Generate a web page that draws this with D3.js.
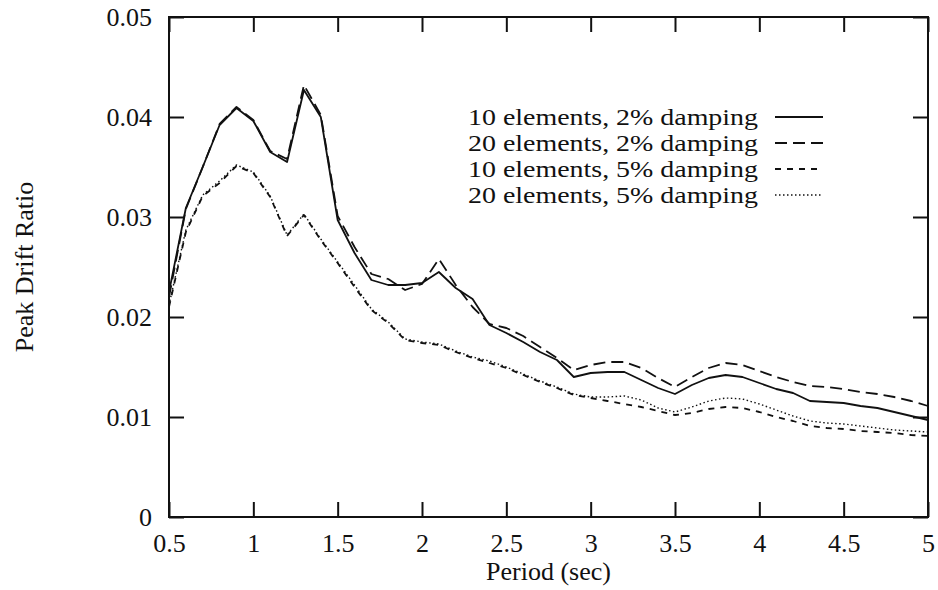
<!DOCTYPE html>
<html>
<head>
<meta charset="utf-8">
<script src="https://cdn.jsdelivr.net/npm/d3@7"></script>
<style>
  html, body { margin: 0; padding: 0; background: #fff; }
  svg text { font-family: "Liberation Serif", "DejaVu Serif", serif; fill: #111; }
</style>
</head>
<body>
<svg id="chart" width="938" height="590"></svg>
<script>
const periods = [0.5,0.6,0.7,0.8,0.9,1.0,1.1,1.2,1.3,1.4,1.5,1.6,1.7,1.8,1.9,2.0,2.1,2.2,2.3,2.4,2.5,2.6,2.7,2.8,2.9,3.0,3.1,3.2,3.3,3.4,3.5,3.6,3.7,3.8,3.9,4.0,4.1,4.2,4.3,4.4,4.5,4.6,4.7,4.8,4.9,5.0];

const el10_d2 = [0.0225,0.0309,0.0350,0.0392,0.0409,0.0396,0.0365,0.0355,0.0427,0.0400,0.0297,0.0264,0.0237,0.0232,0.0232,0.0234,0.0245,0.0229,0.0218,0.0192,0.0184,0.0175,0.0165,0.0157,0.0140,0.0144,0.0145,0.0145,0.0137,0.0129,0.0123,0.0132,0.0139,0.0142,0.0140,0.0134,0.0128,0.0124,0.0116,0.0115,0.0114,0.0111,0.0109,0.0105,0.0101,0.0097];
const el20_d2 = [0.0220,0.0308,0.0350,0.0393,0.0410,0.0397,0.0366,0.0358,0.0432,0.0402,0.0301,0.0270,0.0243,0.0238,0.0227,0.0233,0.0258,0.0232,0.0210,0.0193,0.0189,0.0181,0.0170,0.0159,0.0147,0.0152,0.0155,0.0155,0.0149,0.0139,0.0130,0.0140,0.0149,0.0154,0.0152,0.0146,0.0140,0.0135,0.0131,0.0130,0.0128,0.0125,0.0123,0.0120,0.0116,0.0111];
const el10_d5 = [0.0210,0.0285,0.0321,0.0334,0.0351,0.0344,0.0320,0.0281,0.0302,0.0277,0.0254,0.0230,0.0207,0.0194,0.0177,0.0174,0.0172,0.0165,0.0159,0.0154,0.0149,0.0142,0.0135,0.0129,0.0122,0.0119,0.0116,0.0113,0.0110,0.0106,0.0102,0.0104,0.0108,0.0110,0.0109,0.0105,0.0100,0.0096,0.0091,0.0089,0.0088,0.0086,0.0085,0.0084,0.0082,0.0081];
const el20_d5 = [0.0212,0.0287,0.0322,0.0336,0.0352,0.0345,0.0321,0.0282,0.0303,0.0278,0.0255,0.0232,0.0208,0.0195,0.0178,0.0175,0.0173,0.0166,0.0160,0.0156,0.0150,0.0143,0.0136,0.0130,0.0123,0.0120,0.0120,0.0121,0.0117,0.0109,0.0105,0.0110,0.0116,0.0119,0.0118,0.0113,0.0107,0.0101,0.0096,0.0094,0.0093,0.0091,0.0089,0.0087,0.0086,0.0085];

const seriesNames = ["10 elements, 2% damping","20 elements, 2% damping","10 elements, 5% damping","20 elements, 5% damping"];
const seriesValues = [el10_d2, el20_d2, el10_d5, el20_d5];
const seriesDash = [null, "12,6", "6,6", "1.5,2.5"];
const seriesWidth = [1.8, 1.8, 1.8, 1.4];

const xTicks = [0.5,1,1.5,2,2.5,3,3.5,4,4.5,5];
const xTickLabels = ["0.5","1","1.5","2","2.5","3","3.5","4","4.5","5"];
const yTicks = [0,0.01,0.02,0.03,0.04,0.05];
const yTickLabels = ["0","0.01","0.02","0.03","0.04","0.05"];
const xTitle = "Period (sec)";
const yTitle = "Peak Drift Ratio";

const svg = d3.select("#chart");
const L = 169, R = 928, T = 17, B = 517;
const x = d3.scaleLinear().domain([0.5, 5]).range([L, R]);
const y = d3.scaleLinear().domain([0, 0.05]).range([B, T]);
const FS = 26;
const LFS = 22.5;

// axes
const gx = svg.append("g").attr("transform", `translate(0,${B})`)
  .call(d3.axisBottom(x).tickValues(xTicks).tickFormat((d,i)=>xTickLabels[i]).tickSize(-15).tickPadding(17));
const gxt = svg.append("g").attr("transform", `translate(0,${T})`)
  .call(d3.axisTop(x).tickValues(xTicks).tickFormat("").tickSize(-15));
const gy = svg.append("g").attr("transform", `translate(${L},0)`)
  .call(d3.axisLeft(y).tickValues(yTicks).tickFormat((d,i)=>yTickLabels[i]).tickSize(-15).tickPadding(17));
const gyr = svg.append("g").attr("transform", `translate(${R},0)`)
  .call(d3.axisRight(y).tickValues(yTicks).tickFormat("").tickSize(-15));
[gx,gxt,gy,gyr].forEach(g => {
  g.select(".domain").remove();
  g.selectAll(".tick line").attr("stroke", "#111").attr("stroke-width", 2);
  g.selectAll(".tick text").attr("font-size", FS).attr("font-family", "Liberation Serif").attr("fill", "#111");
});

// frame
svg.append("rect").attr("x", L).attr("y", T).attr("width", R - L).attr("height", B - T)
  .attr("fill", "none").attr("stroke", "#111").attr("stroke-width", 2);

// lines
const line = d3.line().x((d,i)=>x(periods[i])).y(d=>y(d));
seriesValues.forEach((vals, k) => {
  svg.append("path").datum(vals).attr("d", line)
    .attr("fill", "none").attr("stroke", "#111")
    .attr("stroke-width", seriesWidth[k])
    .attr("stroke-dasharray", seriesDash[k])
    .attr("stroke-linejoin", "round");
});

// legend
const legY = [117, 143, 169, 195];
seriesNames.forEach((name, k) => {
  svg.append("text").attr("x", 758).attr("y", legY[k]).attr("dy", "0.35em")
    .attr("text-anchor", "end").attr("font-size", LFS)
    .attr("textLength", 290).attr("lengthAdjust", "spacingAndGlyphs").text(name);
  svg.append("line").attr("x1", 775).attr("x2", 823).attr("y1", legY[k]).attr("y2", legY[k])
    .attr("stroke", "#111").attr("stroke-width", seriesWidth[k]).attr("stroke-dasharray", seriesDash[k]);
});

// titles
svg.append("text").attr("x", (L + R) / 2).attr("y", 580).attr("text-anchor", "middle")
  .attr("font-size", FS).text(xTitle);
svg.append("text").attr("transform", "translate(33,267) rotate(-90)").attr("text-anchor", "middle")
  .attr("font-size", FS).text(yTitle);
</script>
</body>
</html>
